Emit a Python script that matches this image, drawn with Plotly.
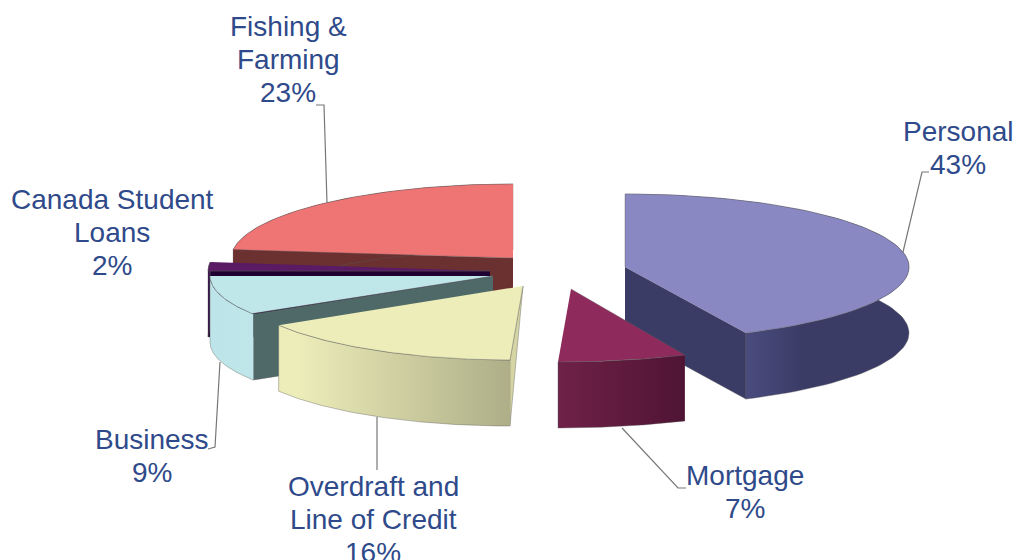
import numpy as np
import plotly.graph_objects as go

label_lines = [["Personal"], ["Mortgage"], ["Overdraft and", "Line of Credit"], ["Business"],
               ["Canada Student", "Loans"], ["Fishing &", "Farming"]]
shares = [43, 7, 16, 9, 2, 23]

# appearance of each slice, in the same order as the shares
top_colors = ["#8a88c2", "#8e2b5c", "#ecedb9", "#bfe6e9", "#5a1a64", "#ef7575"]
side_left = ["#4b4d80", "#6f2147", "#ecedb9", "#bde4e8", "#3a1a4a", "#6b3030"]
side_right = ["#3b3c66", "#4f1434", "#aeae88", "#bfe6e9", "#3a1a4a", "#6b3030"]
side_fade_start = [0.41, 0.0, 0.08, 0.0, 0.0, 0.0]
side_fade_stop = [0.62, 1.0, 1.0, 1.0, 1.0, 1.0]
face_colors = ["#3b3c66", None, "#d4d4a4", "#4f6969", "#1f0030", "#6b3030"]
face_at_end = [True, False, False, False, False, False]
face_apex_drop = [66, 0, 0, 66, 66, 66]
apex_x = [625, 571, 523, 493, 490, 513]
apex_y = [267, 289, 286, 276, 271, 258]
centre_x = [625, 558, 510, 488, 490, 513]
centre_y = [267, 288, 285, 276, 271, 259]
radius_x = [284, 298, 274, 278, 282, 282]
radius_y = [73, 74, 75, 71, 71, 75]
depth = 66
draw_order = [5, 4, 3, 2, 0, 1]

label_x = [958, 745, 373, 152, 112, 288]
label_first_y = [131, 475, 486, 439, 199, 26]
line_gap = 33
leader_x = [[903, 922, 929], [622, 678, 686], [377, 377], [220, 215, 208], [], [327, 324, 316]]
leader_y = [[252, 172, 172], [428, 488, 488], [417, 470], [362, 447, 449], [], [203, 105, 105]]

bounds = np.concatenate([[0], np.cumsum(shares)]) * 3.6


def rim(i, t):
    r = np.radians(t)
    return centre_x[i] + radius_x[i] * np.sin(r), centre_y[i] - radius_y[i] * np.cos(r)


fig = go.Figure()


def poly(xs, ys, color=None, gradient=None, edge="rgba(90,90,90,0.55)"):
    kw = dict(fillgradient=gradient) if gradient else dict(fillcolor=color)
    fig.add_trace(go.Scatter(x=list(xs), y=list(ys), mode="lines", fill="toself",
                             line=dict(color=edge, width=0.7), hoverinfo="skip",
                             showlegend=False, **kw))


for i in draw_order:
    a, b = bounds[i], bounds[i + 1]
    ts = np.linspace(a, b, 80)
    rx, ry = rim(i, ts)
    if face_colors[i]:
        t0 = b if face_at_end[i] else a
        fx, fy = rim(i, t0)
        drop = face_apex_drop[i]
        poly([apex_x[i], fx, fx, apex_x[i]],
             [apex_y[i], fy, fy + depth, apex_y[i] + drop], color=face_colors[i])
    stops = [[0, side_left[i]]]
    if side_fade_start[i] > 0:
        stops.append([side_fade_start[i], side_left[i]])
    stops.append([side_fade_stop[i], side_right[i]])
    if side_fade_stop[i] < 1:
        stops.append([1, side_right[i]])
    poly(np.r_[rx, rx[::-1]], np.r_[ry, ry[::-1] + depth],
         gradient=dict(type="horizontal", colorscale=stops))
    poly(np.r_[apex_x[i], rx], np.r_[apex_y[i], ry], color=top_colors[i])

for xs, ys in zip(leader_x, leader_y):
    if xs:
        fig.add_trace(go.Scatter(x=xs, y=ys, mode="lines", line=dict(color="#777777", width=1.2),
                                 hoverinfo="skip", showlegend=False))

for i in range(len(label_lines)):
    for k, line in enumerate(label_lines[i] + [f"{shares[i]}%"]):
        fig.add_annotation(x=label_x[i], y=label_first_y[i] + k * line_gap, text=line,
                           showarrow=False, xanchor="center", yanchor="middle", align="center",
                           font=dict(family="Liberation Sans", size=28, color="#2f4a8a"))

fig.update_xaxes(range=[0, 1014], visible=False, fixedrange=True)
fig.update_yaxes(range=[560, 0], visible=False, fixedrange=True)
fig.update_layout(width=1014, height=560, margin=dict(l=0, r=0, t=0, b=0),
                  paper_bgcolor="white", plot_bgcolor="white", showlegend=False)
fig.write_html("out.html", config=dict(displayModeBar=False),
               post_script="document.body.style.margin='0';document.documentElement.style.overflow='hidden';")
